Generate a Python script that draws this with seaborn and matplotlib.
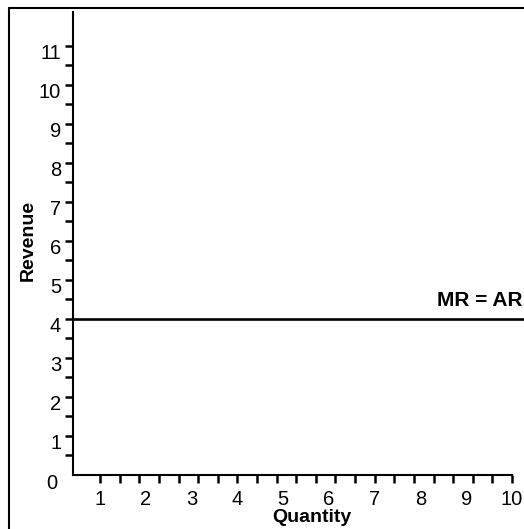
import numpy as np
import pandas as pd
import matplotlib.pyplot as plt
from matplotlib.lines import Line2D
from matplotlib.transforms import ScaledTranslation
import seaborn as sns

# data
quantity = [0, 11]
mr_ar = [4, 4]
x_labels = [1, 2, 3, 4, 5, 6, 7, 8, 9, 10]
y_labels = [1, 2, 3, 4, 5, 6, 7, 8, 9, 10, 11]
line_label = "MR = AR"

sns.set_style("ticks")
plt.rcParams['font.family'] = ['Liberation Sans', 'DejaVu Sans']
plt.rcParams.update({"text.color": "black", "xtick.color": "black",
                     "ytick.color": "black", "axes.edgecolor": "black",
                     "axes.labelcolor": "black"})

fig = plt.figure(figsize=(5.24, 5.29), dpi=100)
ax = fig.add_axes([73 / 524, 54 / 529, 451 / 524, 463 / 529])

df = pd.DataFrame({"Quantity": quantity, "Revenue": mr_ar})
sns.lineplot(data=df, x="Quantity", y="Revenue", color="black", linewidth=1.9, ax=ax)

x_min, x_max = 0.41, 10.26
ax.set_xlim(x_min, x_max)
ax.set_ylim(0, 11.87)

# axes look
for s in ["top", "right"]:
    ax.spines[s].set_visible(False)
ax.spines["left"].set_linewidth(1.5)
ax.spines["bottom"].set_linewidth(1.5)
ax.spines["bottom"].set_bounds(x_min, 10)

# x ticks: labels at integers, tick marks drawn evenly between 1 and 10
ax.xaxis.remove_overlapping_locs = False
ax.set_xticks(x_labels)
ax.set_xticklabels([str(v) for v in x_labels])
ax.set_xticks(np.linspace(1, 10, 22), minor=True)
ax.tick_params(axis="x", which="major", length=0, pad=11, labelsize=14.5)
ax.tick_params(axis="x", which="minor", length=5.5, width=1.8, direction="out")

# y ticks: every half unit, labels at integers (set a little below the tick)
ax.set_yticks(y_labels)
ax.set_yticklabels([str(v) for v in y_labels])
ax.set_yticks(np.arange(0.5, 11.5, 0.5), minor=True)
ax.tick_params(axis="y", which="both", length=5.5, width=1.8, direction="out")
ax.tick_params(axis="y", which="major", pad=3, labelsize=14.5)
shift = ScaledTranslation(0, -0.055, fig.dpi_scale_trans)
for lab in ax.get_yticklabels():
    lab.set_transform(lab.get_transform() + shift)

ax.text(-0.05, -0.21, "0", ha="center", va="center", fontsize=14.5, clip_on=False)

ax.text(10.22, 4.24, line_label, ha="right", va="bottom", fontsize=15,
        fontweight="bold")

ax.set_xlabel("")
ax.set_ylabel("")
fig.text(312 / 524, 1 - 517 / 529, "Quantity", ha="center", va="center",
         fontsize=14, fontweight="bold")
fig.text(28 / 524, 1 - 240 / 529, "Revenue", ha="center", va="center",
         fontsize=14, fontweight="bold", rotation=90)

# page frame lines
fig.add_artist(Line2D([9.3 / 524, 9.3 / 524], [0, 1 - 8.3 / 529], color="black", lw=1.5))
fig.add_artist(Line2D([9.3 / 524, 1], [1 - 8.3 / 529, 1 - 8.3 / 529], color="black", lw=1.5))

fig.savefig("out.png", dpi=100)
